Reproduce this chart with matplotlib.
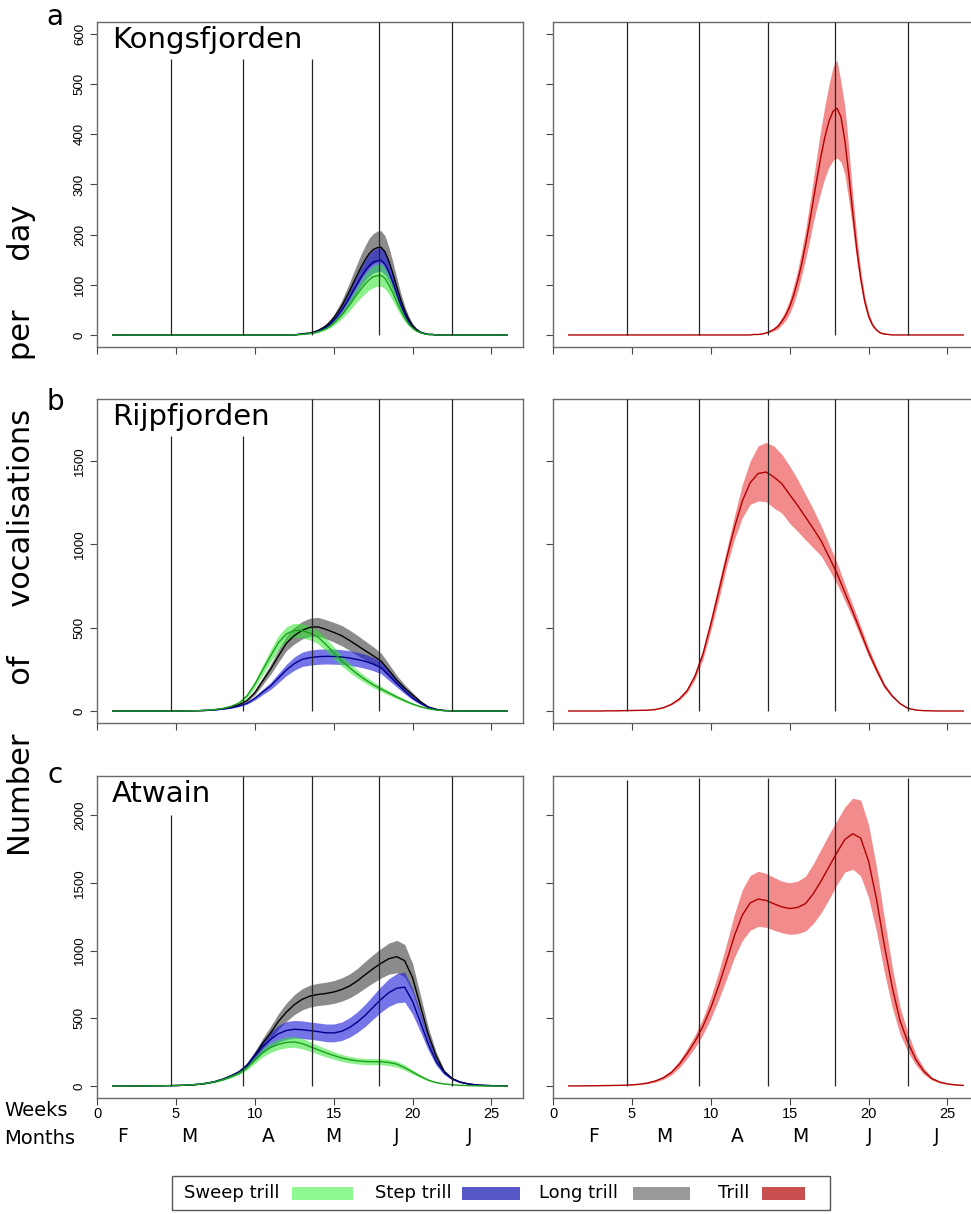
import numpy as np
import matplotlib
matplotlib.use("Agg")
import matplotlib.pyplot as plt
from matplotlib.patches import Rectangle
from matplotlib import font_manager

# ---- data ----
weeks = np.arange(1, 26.5, 0.5)   # week grid, 1 .. 26 by half weeks
# Kongsfjorden has a narrow peak, so it is read at quarter weeks between 12.5 and 22
kong_weeks = np.concatenate([[1], np.arange(12.5, 22.01, 0.25), [26]])

kong_long_mean = [0] + [0, 1, 2, 3, 4, 6, 9, 13, 18, 25, 34, 45, 57, 72, 87, 104, 120, 136, 150, 162,
                        170, 174, 175, 166, 147, 123, 96, 71, 49, 32, 19, 11, 6, 3, 1, 1, 0, 0, 0] + [0]
kong_long_hi = [0] + [0, 1, 2, 4, 5, 7, 11, 15, 21, 30, 40, 54, 68, 86, 104, 124, 143, 162, 178, 193,
                      202, 207, 208, 198, 175, 146, 114, 84, 58, 38, 23, 13, 7, 4, 1, 1, 0, 0, 0] + [0]
kong_long_lo = [0] + [0, 1, 2, 3, 3, 5, 8, 11, 15, 21, 28, 38, 48, 60, 73, 87, 100, 114, 125, 135,
                      142, 145, 146, 139, 123, 103, 80, 59, 41, 27, 16, 9, 5, 3, 1, 1, 0, 0, 0] + [0]
kong_step_mean = [0] + [0, 1, 2, 3, 3, 5, 8, 11, 15, 21, 29, 38, 49, 61, 74, 89, 102, 116, 128, 138,
                        145, 148, 149, 141, 125, 105, 82, 60, 42, 27, 16, 9, 5, 3, 1, 1, 0, 0, 0] + [0]
kong_step_hi = [0] + [0, 1, 2, 3, 4, 6, 9, 13, 18, 25, 34, 45, 57, 72, 87, 104, 119, 135, 149, 161,
                      169, 173, 174, 165, 146, 122, 95, 70, 49, 32, 19, 11, 6, 3, 1, 1, 0, 0, 0] + [0]
kong_step_lo = [0] + [0, 1, 1, 2, 3, 4, 7, 9, 13, 18, 25, 33, 41, 52, 63, 75, 87, 99, 109, 117,
                      123, 126, 127, 120, 107, 89, 70, 51, 36, 23, 14, 8, 4, 2, 1, 1, 0, 0, 0] + [0]
kong_sweep_mean = [0] + [0, 1, 1, 2, 3, 4, 6, 9, 12, 17, 23, 31, 39, 49, 59, 71, 82, 92, 102, 110,
                         116, 118, 119, 113, 100, 84, 66, 49, 34, 22, 14, 8, 5, 2, 1, 1, 0, 0, 0] + [0]
kong_sweep_hi = [0] + [0, 1, 2, 2, 3, 5, 7, 11, 15, 20, 28, 36, 46, 58, 70, 84, 97, 110, 122, 131,
                       138, 141, 142, 134, 119, 100, 78, 58, 40, 26, 16, 10, 6, 3, 2, 1, 0, 0, 0] + [0]
kong_sweep_lo = [0] + [0, 0, 1, 2, 2, 3, 5, 7, 10, 14, 19, 25, 32, 40, 48, 58, 67, 75, 83, 90,
                       94, 97, 97, 92, 82, 68, 53, 39, 27, 18, 11, 6, 4, 2, 1, 0, 0, 0, 0] + [0]
kong_trill_mean = [0] + [0, 1, 1, 2, 4, 7, 11, 17, 27, 39, 56, 79, 107, 140, 179, 222, 269, 315, 359, 397,
                         427, 446, 452, 435, 387, 319, 244, 172, 113, 68, 38, 20, 10, 4, 2, 1, 0, 0, 0] + [0]
kong_trill_hi = [0] + [0, 1, 2, 3, 6, 9, 15, 22, 35, 50, 70, 98, 128, 167, 208, 258, 310, 364, 415, 460,
                       500, 535, 548, 505, 455, 372, 280, 198, 130, 78, 45, 23, 12, 5, 3, 1, 0, 0, 0] + [0]
kong_trill_lo = [0] + [0, 1, 1, 2, 3, 5, 8, 12, 20, 29, 43, 62, 87, 117, 150, 186, 225, 258, 288, 315,
                       335, 348, 353, 345, 320, 268, 210, 148, 97, 58, 31, 16, 8, 3, 1, 1, 0, 0, 0] + [0]

# Rijpfjorden: values at weeks 6 .. 22.5, zero elsewhere (trill: full range)
rijp_long_mean = [0] * 10 + [1, 2, 4, 8, 14, 24, 38, 62, 110, 180, 250, 330, 406, 452, 484, 502, 505, 490, 472, 452,
                             424, 393, 362, 332, 300, 244, 186, 138, 96, 56, 24, 10, 3, 1] + [0] * 7
rijp_long_hi = [0] * 10 + [1, 2, 5, 9, 16, 27, 43, 70, 124, 202, 280, 368, 450, 502, 537, 557, 562, 548, 532, 514,
                           486, 454, 420, 386, 348, 282, 214, 158, 110, 64, 28, 12, 4, 1] + [0] * 7
rijp_long_lo = [0] * 10 + [1, 2, 3, 7, 12, 21, 33, 54, 96, 158, 220, 292, 362, 402, 432, 448, 450, 434, 414, 392,
                           364, 334, 306, 280, 254, 206, 158, 118, 82, 48, 20, 8, 2, 0] + [0] * 7
rijp_step_mean = [0] * 10 + [1, 2, 4, 7, 12, 19, 30, 46, 76, 114, 150, 198, 246, 284, 310, 320, 326, 328, 327, 324,
                             318, 309, 298, 282, 260, 214, 166, 120, 78, 46, 22, 9, 3, 1] + [0] * 7
rijp_step_hi = [0] * 10 + [1, 2, 5, 8, 14, 22, 34, 52, 87, 130, 171, 226, 280, 324, 353, 365, 371, 372, 371, 368,
                           362, 352, 340, 322, 296, 244, 189, 137, 89, 52, 25, 10, 3, 1] + [0] * 7
rijp_step_lo = [0] * 10 + [1, 2, 3, 6, 10, 16, 26, 40, 65, 98, 129, 170, 212, 244, 267, 275, 280, 282, 281, 279,
                           274, 266, 256, 242, 224, 184, 143, 103, 67, 40, 19, 8, 3, 1] + [0] * 7
rijp_sweep_mean = [0] * 10 + [1, 2, 5, 9, 16, 28, 48, 90, 160, 246, 330, 410, 462, 484, 482, 468, 444, 400, 350, 302,
                              260, 222, 188, 158, 132, 108, 84, 62, 42, 26, 14, 6, 2, 1] + [0] * 7
rijp_sweep_hi = [0] * 10 + [1, 2, 6, 10, 18, 32, 55, 102, 180, 275, 366, 452, 506, 526, 524, 510, 484, 438, 386, 334,
                            288, 246, 209, 176, 148, 121, 95, 71, 48, 30, 16, 7, 2, 1] + [0] * 7
rijp_sweep_lo = [0] * 10 + [1, 2, 4, 8, 14, 24, 41, 78, 140, 217, 294, 368, 418, 442, 440, 426, 404, 362, 314, 270,
                            232, 198, 167, 140, 116, 95, 73, 53, 36, 22, 12, 5, 2, 1] + [0] * 7
rijp_trill_mean = [0, 0, 0, 0, 0, 1, 1, 2, 3, 4,
                   5, 9, 20, 40, 72, 122, 210, 340, 520, 716, 916, 1100, 1260, 1370, 1425, 1434, 1404, 1364,
                   1298, 1234, 1164, 1094, 1020, 924, 826, 710, 596, 476, 354, 248, 152, 90, 44, 16,
                   6, 2, 1, 0, 0, 0, 0]
rijp_trill_hi = [0, 0, 0, 0, 0, 1, 1, 2, 3, 5,
                 6, 10, 22, 44, 80, 134, 230, 370, 560, 766, 966, 1170, 1360, 1500, 1590, 1612, 1590, 1540,
                 1470, 1390, 1300, 1210, 1110, 1000, 890, 760, 636, 510, 380, 268, 166, 98, 48, 18,
                 7, 2, 1, 0, 0, 0, 0]
rijp_trill_lo = [0, 0, 0, 0, 0, 1, 1, 2, 3, 3,
                 4, 8, 18, 36, 64, 110, 190, 310, 480, 666, 866, 1030, 1160, 1240, 1260, 1256, 1218, 1188,
                 1126, 1078, 1028, 978, 930, 848, 762, 660, 556, 442, 328, 228, 138, 82, 40, 14,
                 5, 2, 1, 0, 0, 0, 0]

# Atwain
atw_long_mean = [0, 0, 0, 1, 1, 2, 2, 3, 4, 6, 9, 14, 22, 34, 52, 76, 104, 150, 226, 314,
                 392, 477, 545, 600, 640, 664, 676, 683, 694, 712, 738, 776, 822, 866, 906, 940, 955, 925, 800, 590,
                 380, 220, 108, 56, 30, 17, 9, 5, 3, 2, 1]
atw_long_hi = [0, 0, 0, 1, 1, 2, 2, 3, 4, 7, 10, 16, 25, 38, 58, 85, 116, 168, 254, 352,
               440, 535, 612, 674, 718, 745, 758, 766, 778, 798, 826, 868, 920, 970, 1015, 1055, 1075, 1045, 905, 670,
               432, 250, 122, 63, 34, 19, 10, 6, 3, 2, 1]
atw_long_lo = [0, 0, 0, 1, 1, 2, 2, 3, 4, 5, 8, 12, 19, 30, 46, 67, 92, 132, 198, 276,
               344, 419, 478, 526, 562, 583, 594, 600, 610, 626, 650, 684, 724, 762, 797, 826, 836, 806, 695, 510,
               328, 190, 94, 49, 26, 15, 8, 4, 3, 2, 1]
atw_step_mean = [0, 0, 0, 1, 1, 2, 2, 3, 4, 6, 9, 14, 22, 34, 52, 76, 104, 152, 222, 292,
                 344, 386, 410, 419, 416, 409, 402, 393, 392, 404, 432, 472, 522, 582, 640, 690, 722, 730, 625, 470,
                 310, 180, 100, 54, 30, 17, 9, 5, 3, 2, 1]
atw_step_hi = [0, 0, 0, 1, 1, 2, 2, 3, 4, 7, 10, 16, 25, 38, 58, 85, 117, 172, 254, 338,
               400, 448, 476, 484, 481, 473, 466, 458, 458, 472, 504, 548, 604, 670, 735, 792, 830, 840, 720, 540,
               356, 207, 115, 62, 34, 19, 10, 6, 3, 2, 1]
atw_step_lo = [0, 0, 0, 1, 1, 2, 2, 3, 4, 5, 8, 12, 19, 30, 46, 67, 91, 132, 190, 246,
               288, 324, 344, 354, 351, 345, 338, 328, 326, 336, 360, 396, 440, 494, 545, 588, 614, 620, 530, 400,
               264, 153, 85, 46, 26, 15, 8, 4, 3, 2, 1]
atw_sweep_mean = [0, 0, 0, 1, 1, 2, 2, 3, 4, 6, 9, 14, 21, 32, 48, 70, 96, 136, 190, 246,
                  284, 308, 322, 326, 314, 292, 268, 246, 226, 208, 195, 186, 181, 180, 180, 174, 162, 136, 104, 72,
                  44, 26, 16, 10, 6, 4, 2, 1, 1, 0, 0]
atw_sweep_hi = [0, 0, 0, 1, 1, 2, 2, 3, 4, 7, 10, 16, 24, 36, 54, 79, 108, 153, 214, 276,
                320, 346, 362, 366, 353, 328, 301, 276, 254, 234, 219, 209, 204, 203, 203, 197, 184, 155, 119, 83,
                51, 30, 19, 12, 7, 5, 2, 1, 1, 0, 0]
atw_sweep_lo = [0, 0, 0, 1, 1, 2, 2, 3, 4, 5, 8, 12, 18, 28, 42, 61, 84, 119, 166, 216,
                248, 270, 282, 286, 275, 256, 235, 216, 198, 182, 171, 163, 158, 157, 157, 151, 140, 117, 89, 61,
                37, 22, 13, 8, 5, 3, 2, 1, 1, 0, 0]
atw_trill_mean = [1, 1, 2, 2, 3, 4, 5, 6, 9, 14, 23, 38, 62, 100, 160, 240, 330, 440, 576, 740,
                  920, 1110, 1262, 1352, 1380, 1370, 1345, 1322, 1310, 1318, 1346, 1420, 1515, 1620, 1724, 1820,
                  1862, 1830, 1660, 1380, 1040, 730, 480, 321, 195, 110, 56, 30, 16, 9, 5]
atw_trill_hi = [1, 1, 2, 2, 3, 4, 6, 7, 11, 17, 28, 46, 74, 118, 186, 276, 376, 500, 655, 842,
                1050, 1270, 1450, 1555, 1585, 1570, 1540, 1512, 1500, 1512, 1548, 1640, 1750, 1860, 1960, 2060,
                2125, 2110, 1930, 1620, 1240, 880, 580, 390, 235, 133, 67, 36, 19, 11, 6]
atw_trill_lo = [1, 1, 2, 2, 3, 3, 4, 5, 7, 11, 18, 30, 50, 82, 134, 204, 284, 380, 497, 638,
                790, 950, 1074, 1150, 1178, 1172, 1150, 1132, 1120, 1124, 1144, 1200, 1280, 1380, 1488, 1580,
                1600, 1550, 1390, 1140, 840, 580, 380, 252, 155, 87, 45, 24, 13, 7, 4]

sites = ["Kongsfjorden", "Rijpfjorden", "Atwain"]
site_weeks = [kong_weeks, weeks, weeks]
panel_letters = ["a", "b", "c"]
y_max = [600, 1800, 2200]
y_ticks = [[0, 100, 200, 300, 400, 500, 600], [0, 500, 1000, 1500], [0, 500, 1000, 1500, 2000]]

month_weeks = [4.7, 9.25, 13.65, 17.85, 22.5]          # month boundary lines
line_tops_left = [[550, 550, 550, 624, 624], [1650, 1650, 1872, 1872, 1872], [2000, 2288, 2288, 2288, 2288]]
line_tops_right = [[624] * 5, [1872] * 5, [2260, 2270, 2270, 2270, 2270]]

week_ticks = [0, 5, 10, 15, 20, 25]
month_names = ["F", "M", "A", "M", "J", "J"]
month_pos_left = [1.65, 5.85, 10.85, 15.0, 19.0, 23.6]
month_pos_right = [2.6, 7.05, 11.65, 15.65, 20.1, 24.3]

calls = ["Sweep trill", "Step trill", "Long trill"]
left_series = [
    [(kong_sweep_mean, kong_sweep_lo, kong_sweep_hi), (kong_step_mean, kong_step_lo, kong_step_hi),
     (kong_long_mean, kong_long_lo, kong_long_hi)],
    [(rijp_sweep_mean, rijp_sweep_lo, rijp_sweep_hi), (rijp_step_mean, rijp_step_lo, rijp_step_hi),
     (rijp_long_mean, rijp_long_lo, rijp_long_hi)],
    [(atw_sweep_mean, atw_sweep_lo, atw_sweep_hi), (atw_step_mean, atw_step_lo, atw_step_hi),
     (atw_long_mean, atw_long_lo, atw_long_hi)],
]
right_series = [
    (kong_trill_mean, kong_trill_lo, kong_trill_hi),
    (rijp_trill_mean, rijp_trill_lo, rijp_trill_hi),
    (atw_trill_mean, atw_trill_lo, atw_trill_hi),
]

legend_labels = ["Sweep trill", "Step trill", "Long trill", "Trill"]
legend_colors = ["#90f890", "#5858c8", "#999999", "#c85050"]

# ---- styles ----
band_style = {
    "Sweep trill": dict(fill="#2ee62e", alpha=0.55, line="#1ca01c"),
    "Step trill": dict(fill="#1a1ad9", alpha=0.6, line="#00008b"),
    "Long trill": dict(fill="#4d4d4d", alpha=0.65, line="black"),
    "Trill": dict(fill="#f07878", alpha=0.85, line="#b00000"),
}
draw_order = ["Long trill", "Step trill", "Sweep trill"]

names = {f.name for f in font_manager.fontManager.ttflist}
narrow = "Liberation Sans Narrow" if "Liberation Sans Narrow" in names else "Liberation Sans"

W, H = 971, 1214
fig = plt.figure(figsize=(W / 100, H / 100), dpi=100)

# panel boxes in pixels: (top, bottom)
rows_px = [(22, 347), (399, 723), (776, 1098)]
cols_px = [(97, 523), (553, 979)]


def style_axes(ax, ytop, yticks, show_ylab, show_xlab):
    ax.set_xlim(0, 27)
    ax.set_ylim(-0.04 * ytop, 1.04 * ytop)
    ax.set_xticks(week_ticks)
    ax.set_yticks(yticks)
    for s in ax.spines.values():
        s.set_color("#6a6a6a")
        s.set_linewidth(1.0)
    ax.tick_params(axis="both", direction="out", length=5, width=0.8, color="#444444")
    ax.tick_params(axis="y", labelrotation=90, labelsize=9.5, pad=3, labelleft=show_ylab)
    ax.tick_params(axis="x", labelsize=10.5, pad=1.5, labelbottom=show_xlab)
    for lbl in ax.get_yticklabels():
        lbl.set_va("center")
        lbl.set_family(narrow)
    for lbl in ax.get_xticklabels():
        lbl.set_family(narrow)


for r in range(3):
    top, bot = rows_px[r]
    x = site_weeks[r]
    for c in range(2):
        x0, x1 = cols_px[c]
        ax = fig.add_axes([x0 / W, 1 - bot / H, (x1 - x0) / W, (bot - top) / H])
        style_axes(ax, y_max[r], y_ticks[r], c == 0, r == 2)
        if c == 0:
            by_name = dict(zip(calls, left_series[r]))
            for name in draw_order:
                m, lo, hi = by_name[name]
                st = band_style[name]
                ax.fill_between(x, lo, hi, color=st["fill"], alpha=st["alpha"], lw=0, zorder=2)
            for name in draw_order:
                m, lo, hi = by_name[name]
                ax.plot(x, m, color=band_style[name]["line"], lw=1.0, zorder=3)
            tops = line_tops_left[r]
            ax.text(0.035, 0.92, sites[r], transform=ax.transAxes, fontsize=21,
                    ha="left", va="baseline")
        else:
            m, lo, hi = right_series[r]
            st = band_style["Trill"]
            ax.fill_between(x, lo, hi, color=st["fill"], alpha=st["alpha"], lw=0, zorder=2)
            ax.plot(x, m, color=st["line"], lw=1.0, zorder=3)
            tops = line_tops_right[r]
        ax.vlines(month_weeks, 0, tops, color="#262626", lw=0.9, zorder=4)
        if r == 2:
            pos = month_pos_left if c == 0 else month_pos_right
            for xm, nm in zip(pos, month_names):
                ax.text(xm, -0.121, nm, transform=ax.get_xaxis_transform(), fontsize=13.5,
                        ha="center", va="center")

# overlay in pixel coordinates for figure-level text and legend
ov = fig.add_axes([0, 0, 1, 1], zorder=-1)
ov.set_xlim(0, W)
ov.set_ylim(H, 0)
ov.axis("off")

ov.text(22, 530, "Number     of     vocalisations     per     day", rotation=90,
        fontsize=22, ha="center", va="center")
for letter, base in zip(panel_letters, [25, 410, 783]):
    ov.text(55, base, letter, fontsize=20, ha="center", va="baseline")
ov.text(4, 1111, "Weeks", fontsize=14, ha="left", va="center")
ov.text(4, 1138, "Months", fontsize=14, ha="left", va="center")

# legend box with text followed by a colour swatch
ov.add_patch(Rectangle((172, 1176), 658, 34, fill=False, edgecolor="#555555", lw=1.0))
text_x = [184, 375, 539, 718]
swatch_x = [(292, 353), (462, 520), (633, 690), (762, 805)]
for lab, col, tx, (sx0, sx1) in zip(legend_labels, legend_colors, text_x, swatch_x):
    ov.text(tx, 1193, lab, fontsize=13, ha="left", va="center")
    ov.add_patch(Rectangle((sx0, 1187), sx1 - sx0, 13, facecolor=col, edgecolor="none"))

fig.savefig("out.png", dpi=100)
